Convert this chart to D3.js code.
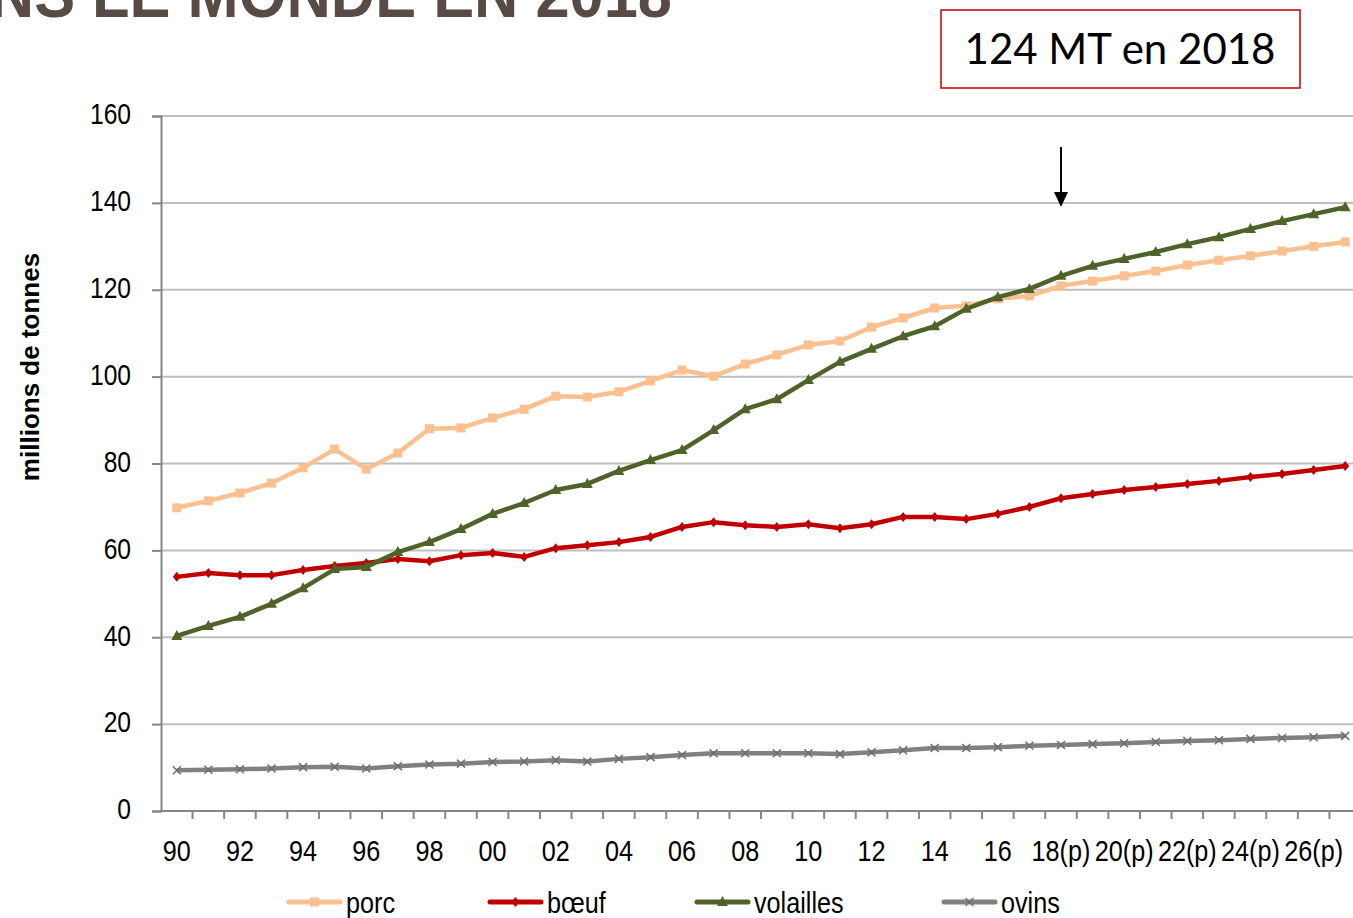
<!DOCTYPE html>
<html lang="fr">
<head>
<meta charset="UTF-8">
<title>Production de viande dans le monde</title>
<script src="https://d3js.org/d3.v7.min.js"></script>
<style>
  body { margin: 0; background: #fff; }
  svg { display: block; }
  .narrow { font-family: "Liberation Sans Narrow", "Arial Narrow", "Liberation Sans", sans-serif; }
</style>
</head>
<body>
<svg width="1353" height="918"></svg>
<script>
// années 1990 -> 2027, (p) = prévisions
const years = d3.range(1990, 2028);
const tickLabels = years.map(y => {
  const s = String(y).slice(2);
  if (y % 2 !== 0) return '';
  return y >= 2018 ? s + '(p)' : s;
});
const yTicks = [0, 20, 40, 60, 80, 100, 120, 140, 160];

const porc = [69.8, 71.4, 73.2, 75.5, 79.0, 83.3, 78.7, 82.4, 88.0, 88.2, 90.5, 92.5, 95.5, 95.3, 96.5, 99.0, 101.5, 100.1, 102.9, 105.0, 107.3, 108.2, 111.4, 113.5, 115.8, 116.3, 117.9, 118.6, 120.9, 122.0, 123.2, 124.3, 125.7, 126.8, 127.8, 128.9, 130.0, 131.0];
const boeuf = [53.9, 54.8, 54.3, 54.3, 55.5, 56.4, 57.1, 58.0, 57.5, 58.9, 59.4, 58.5, 60.5, 61.2, 61.9, 63.1, 65.4, 66.5, 65.8, 65.4, 66.0, 65.1, 66.0, 67.7, 67.7, 67.2, 68.4, 70.0, 72.0, 73.0, 73.9, 74.6, 75.3, 76.0, 76.9, 77.6, 78.5, 79.4];
const volailles = [40.3, 42.6, 44.7, 47.7, 51.3, 55.7, 56.2, 59.6, 61.9, 64.9, 68.4, 70.9, 73.9, 75.3, 78.3, 80.8, 83.1, 87.7, 92.5, 94.8, 99.2, 103.4, 106.4, 109.3, 111.6, 115.6, 118.3, 120.2, 123.2, 125.5, 127.1, 128.7, 130.5, 132.1, 134.0, 135.8, 137.4, 139.0];
const ovins = [9.4, 9.5, 9.6, 9.8, 10.1, 10.2, 9.8, 10.3, 10.7, 10.9, 11.3, 11.4, 11.7, 11.4, 12.0, 12.4, 12.9, 13.3, 13.3, 13.3, 13.3, 13.1, 13.5, 14.0, 14.5, 14.5, 14.7, 15.0, 15.2, 15.4, 15.6, 15.9, 16.1, 16.3, 16.6, 16.8, 17.0, 17.3];

const series = [
  { name: 'porc', values: porc, color: '#FAC090', marker: 'square' },
  { name: 'bœuf', values: boeuf, color: '#C00000', marker: 'diamond' },
  { name: 'volailles', values: volailles, color: '#4F6228', marker: 'triangle' },
  { name: 'ovins', values: ovins, color: '#808080', marker: 'cross' }
];

const svg = d3.select('svg');
const margin = { top: 116, right: -8, bottom: 107, left: 161 };
const width = +svg.attr('width');
const height = +svg.attr('height');

const x = d3.scaleBand()
  .domain(years)
  .range([margin.left, width - margin.right])
  .padding(0);
const y = d3.scaleLinear()
  .domain([0, 160])
  .range([height - margin.bottom, margin.top]);
const cx = d => x(d) + x.bandwidth() / 2;

// resserre un texte à une fraction de sa largeur naturelle
function condense(sel, k) {
  sel.each(function() {
    const w = this.getComputedTextLength();
    if (w > 0) d3.select(this).attr('textLength', w * k).attr('lengthAdjust', 'spacingAndGlyphs');
  });
}

// titre (coupé en haut de la diapo)
svg.append('text')
  .attr('class', 'narrow')
  .attr('x', 672).attr('y', 17)
  .attr('text-anchor', 'end')
  .style('font-size', '66px').style('font-weight', 'bold')
  .attr('fill', '#584A44')
  .text('PRODUCTION DE VIANDE DANS LE MONDE EN 2018')
  .call(condense, 0.93);

// grille
svg.append('g')
  .selectAll('line')
  .data(yTicks.slice(1))
  .join('line')
  .attr('x1', margin.left).attr('x2', width)
  .attr('y1', d => y(d)).attr('y2', d => y(d))
  .attr('stroke', '#BFBFBF').attr('stroke-width', 2);

// axe Y
const yAxis = svg.append('g')
  .attr('transform', `translate(${margin.left},0)`)
  .call(d3.axisLeft(y).tickValues(yTicks).tickSize(9).tickPadding(21));
yAxis.select('.domain').attr('stroke', '#868686').attr('stroke-width', 2);
yAxis.selectAll('.tick line').attr('stroke', '#868686').attr('stroke-width', 2);
yAxis.selectAll('.tick text')
  .attr('class', 'narrow')
  .attr('dy', '0.26em')
  .style('font-size', '30px').attr('fill', '#000')
  .call(condense, 0.82);

// axe X (graduations entre les catégories)
const xAxisY = y(0);
svg.append('line')
  .attr('x1', margin.left).attr('x2', width)
  .attr('y1', xAxisY).attr('y2', xAxisY)
  .attr('stroke', '#868686').attr('stroke-width', 2);
svg.append('g')
  .selectAll('line')
  .data(years.slice(1))
  .join('line')
  .attr('x1', d => x(d)).attr('x2', d => x(d))
  .attr('y1', xAxisY).attr('y2', xAxisY + 8)
  .attr('stroke', '#868686').attr('stroke-width', 2);
svg.append('g')
  .selectAll('text')
  .data(years)
  .join('text')
  .attr('class', 'narrow')
  .attr('x', d => cx(d))
  .attr('y', 861)
  .attr('text-anchor', 'middle')
  .style('font-size', '30px')
  .text((d, i) => tickLabels[i])
  .call(condense, 0.84);

// titre axe Y
svg.append('text')
  .attr('transform', `translate(39,${367}) rotate(-90)`)
  .attr('text-anchor', 'middle')
  .style('font-family', '"Liberation Sans", Arial, sans-serif')
  .style('font-size', '26px').style('font-weight', 'bold')
  .text('millions de tonnes');

// marqueurs
function drawMarker(g, type, color, px, py) {
  if (type === 'square') {
    g.append('rect').attr('x', px - 4.5).attr('y', py - 4.5).attr('width', 9).attr('height', 9).attr('fill', color);
  } else if (type === 'diamond') {
    g.append('path').attr('d', `M${px},${py - 5}L${px + 4},${py}L${px},${py + 5}L${px - 4},${py}Z`).attr('fill', color);
  } else if (type === 'triangle') {
    g.append('path').attr('d', `M${px},${py - 6}L${px + 5.5},${py + 4}L${px - 5.5},${py + 4}Z`).attr('fill', color);
  } else {
    g.append('path').attr('d', `M${px - 4},${py - 4}L${px + 4},${py + 4}M${px + 4},${py - 4}L${px - 4},${py + 4}`)
      .attr('stroke', '#6E6E6E').attr('stroke-width', 1.5);
  }
}

const line = d3.line().x((d, i) => cx(years[i])).y(d => y(d));

// ordre de dessin : ovins, porc, bœuf, volailles
const order = [series[3], series[0], series[1], series[2]];
order.forEach(s => {
  const g = svg.append('g');
  g.append('path')
    .datum(s.values)
    .attr('fill', 'none')
    .attr('stroke', s.color)
    .attr('stroke-width', 4.5)
    .attr('stroke-linejoin', 'round')
    .attr('d', line);
  s.values.forEach((v, i) => drawMarker(g, s.marker, s.color, cx(years[i]), y(v)));
});

// légende
const legendX = [289, 490, 697, 944];
series.forEach((s, i) => {
  const g = svg.append('g').attr('transform', `translate(${legendX[i]},902)`);
  g.append('line').attr('x1', 0).attr('x2', 51).attr('y1', 0).attr('y2', 0)
    .attr('stroke', s.color).attr('stroke-width', 5).attr('stroke-linecap', 'round');
  drawMarker(g, s.marker, s.color, 25.5, 0);
  g.append('text')
    .attr('class', 'narrow')
    .attr('x', 57).attr('y', 11)
    .style('font-size', '30px')
    .text(s.name)
    .call(condense, 0.84);
});

// encadré
svg.append('rect')
  .attr('x', 941).attr('y', 10).attr('width', 359).attr('height', 78)
  .attr('fill', '#fff').attr('stroke', '#C00000').attr('stroke-width', 1.5);
svg.append('text')
  .attr('x', 1120).attr('y', 64)
  .attr('text-anchor', 'middle')
  .style('font-family', 'Lato, "Open Sans", sans-serif')
  .style('font-size', '42px')
  .text('124 MT en 2018');

// flèche vers 2018
const ax = cx(2018);
svg.append('line')
  .attr('x1', ax).attr('x2', ax).attr('y1', 147).attr('y2', 195)
  .attr('stroke', '#000').attr('stroke-width', 2);
svg.append('path')
  .attr('d', `M${ax - 7},${192}L${ax + 7},${192}L${ax},${207}Z`)
  .attr('fill', '#000');
</script>
</body>
</html>
